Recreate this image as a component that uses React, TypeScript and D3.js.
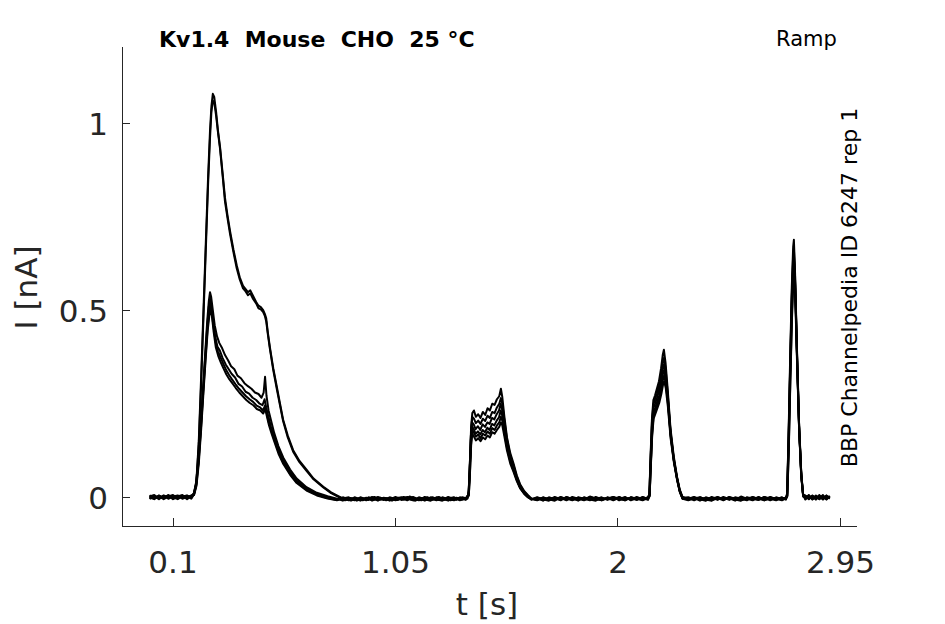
import { useEffect, useRef } from 'react';
import * as d3 from 'd3';

type Pt = [number, number];

// time [s], current [nA] -- six sweeps of the ramp protocol
const sweep1: Pt[] = [
  [0.000,0.003],[0.02,-0.004],[0.04,0.005],[0.06,-0.002],[0.08,0.004],[0.10,-0.005],[0.12,0.002],[0.14,0.006],[0.16,-0.003],[0.178,0.002],
  [0.19,0.012],[0.2,0.045],[0.21,0.15],[0.22,0.32],[0.23,0.50],[0.24,0.68],[0.25,0.86],[0.258,0.98],[0.264,1.045],[0.27,1.078],[0.276,1.07],
  [0.284,1.03],[0.292,0.98],[0.301,0.935],[0.312,0.865],[0.322,0.80],[0.333,0.752],[0.344,0.71],[0.358,0.662],[0.372,0.62],[0.385,0.588],[0.399,0.565],[0.41,0.556],[0.42,0.548],[0.43,0.553],[0.442,0.538],[0.455,0.522],[0.465,0.512],[0.475,0.508],[0.485,0.50],[0.492,0.49],[0.498,0.478],[0.505,0.44],[0.514,0.40],[0.528,0.345],[0.543,0.296],[0.557,0.25],[0.57,0.208],[0.59,0.165],[0.613,0.126],[0.64,0.097],[0.671,0.073],[0.70,0.05],[0.742,0.028],[0.775,0.013],[0.81,0.002],
  [0.835,-0.008],[0.86,-0.002],[0.885,-0.009],[0.91,-0.003],[0.935,-0.007],[0.96,0.001],[0.985,-0.006],[1.01,-0.002],[1.035,-0.009],[1.06,-0.001],[1.085,-0.006],[1.11,0.002],[1.135,-0.004],[1.16,-0.008],[1.185,0.0],[1.21,-0.005],[1.235,0.001],[1.26,-0.006],[1.285,-0.002],[1.31,-0.007],[1.335,0.0],[1.357,-0.004],
  [1.363,0.02],[1.368,0.10],[1.373,0.19],[1.378,0.225],[1.385,0.232],[1.393,0.215],[1.403,0.222],[1.413,0.212],[1.423,0.228],[1.433,0.22],[1.443,0.238],[1.453,0.232],[1.463,0.25],[1.473,0.247],[1.483,0.262],[1.493,0.27],[1.5,0.29],[1.506,0.268],[1.515,0.215],[1.526,0.16],[1.54,0.118],[1.554,0.09],[1.568,0.058],[1.582,0.035],[1.6,0.016],[1.615,0.006],[1.63,-0.003],
  [1.655,-0.007],[1.68,0.0],[1.705,-0.006],[1.73,-0.002],[1.755,-0.008],[1.78,0.001],[1.805,-0.005],[1.83,-0.001],[1.855,-0.007],[1.88,0.002],[1.905,-0.004],[1.93,-0.008],[1.955,0.0],[1.98,-0.005],[2.005,0.001],[2.03,-0.006],[2.055,-0.002],[2.08,-0.007],[2.105,0.0],[2.128,-0.004],
  [2.134,0.01],[2.139,0.11],[2.145,0.21],[2.151,0.26],[2.158,0.272],[2.166,0.29],[2.175,0.31],[2.184,0.345],[2.191,0.38],[2.196,0.394],[2.203,0.36],[2.212,0.29],[2.224,0.185],[2.238,0.11],[2.252,0.055],[2.263,0.022],[2.275,0.002],
  [2.3,-0.006],[2.325,0.0],[2.35,-0.007],[2.375,-0.002],[2.4,-0.008],[2.425,0.001],[2.45,-0.005],[2.475,-0.001],[2.5,-0.007],[2.525,0.002],[2.55,-0.004],[2.575,-0.008],[2.6,0.0],[2.625,-0.005],[2.65,0.001],[2.675,-0.006],[2.7,-0.002],[2.717,-0.005],
  [2.722,0.01],[2.728,0.16],[2.735,0.37],[2.742,0.56],[2.748,0.67],[2.751,0.688],[2.756,0.6],[2.764,0.4],[2.773,0.2],[2.782,0.07],[2.79,0.01],
  [2.80,-0.004],[2.815,0.005],[2.83,-0.006],[2.845,0.003],[2.86,-0.005],[2.875,0.004],[2.89,-0.003],[2.904,0.002],
];

const sweep2: Pt[] = [
  [0.000,-0.003],[0.02,0.004],[0.04,-0.002],[0.06,0.005],[0.08,-0.004],[0.10,0.003],[0.12,-0.002],[0.14,0.004],[0.16,-0.005],[0.178,0.003],
  [0.19,0.01],[0.2,0.04],[0.21,0.14],[0.22,0.30],[0.23,0.48],[0.24,0.66],[0.25,0.84],[0.258,0.96],[0.264,1.03],[0.27,1.06],[0.276,1.055],
  [0.284,1.02],[0.292,0.975],[0.301,0.93],[0.312,0.858],[0.322,0.79],[0.333,0.745],[0.344,0.702],[0.358,0.655],[0.372,0.612],[0.385,0.582],[0.399,0.558],[0.41,0.55],[0.42,0.54],[0.43,0.545],[0.442,0.53],[0.455,0.518],[0.465,0.505],[0.475,0.502],[0.485,0.495],[0.492,0.485],[0.498,0.47],[0.505,0.435],[0.514,0.395],[0.528,0.34],[0.543,0.29],[0.557,0.245],[0.57,0.204],[0.59,0.16],[0.613,0.122],[0.64,0.094],[0.671,0.07],[0.70,0.048],[0.742,0.026],[0.775,0.011],[0.81,0.0],
  [0.835,-0.004],[0.86,-0.009],[0.885,-0.003],[0.91,-0.008],[0.935,0.0],[0.96,-0.006],[0.985,-0.001],[1.01,-0.008],[1.035,-0.003],[1.06,-0.007],[1.085,0.001],[1.11,-0.005],[1.135,-0.009],[1.16,-0.002],[1.185,-0.006],[1.21,0.0],[1.235,-0.007],[1.26,-0.003],[1.285,-0.008],[1.31,-0.001],[1.335,-0.006],[1.357,-0.002],
  [1.363,0.015],[1.368,0.09],[1.373,0.18],[1.378,0.215],[1.385,0.21],[1.393,0.198],[1.403,0.205],[1.413,0.196],[1.423,0.21],[1.433,0.204],[1.443,0.218],[1.453,0.212],[1.463,0.228],[1.473,0.225],[1.483,0.24],[1.493,0.25],[1.5,0.265],[1.506,0.25],[1.515,0.205],[1.526,0.155],[1.54,0.112],[1.554,0.085],[1.568,0.055],[1.582,0.032],[1.6,0.014],[1.615,0.004],[1.63,-0.005],
  [1.655,-0.001],[1.68,-0.008],[1.705,-0.002],[1.73,-0.007],[1.755,0.001],[1.78,-0.006],[1.805,-0.002],[1.83,-0.009],[1.855,0.0],[1.88,-0.005],[1.905,-0.001],[1.93,-0.007],[1.955,-0.003],[1.98,0.001],[2.005,-0.008],[2.03,-0.002],[2.055,-0.006],[2.08,0.001],[2.105,-0.005],[2.128,-0.001],
  [2.134,0.008],[2.139,0.1],[2.145,0.2],[2.151,0.248],[2.158,0.262],[2.166,0.278],[2.175,0.298],[2.184,0.33],[2.191,0.36],[2.196,0.372],[2.203,0.345],[2.212,0.28],[2.224,0.178],[2.238,0.105],[2.252,0.052],[2.263,0.02],[2.275,0.0],
  [2.3,-0.002],[2.325,-0.008],[2.35,0.0],[2.375,-0.006],[2.4,-0.001],[2.425,-0.007],[2.45,0.001],[2.475,-0.005],[2.5,-0.002],[2.525,-0.008],[2.55,0.0],[2.575,-0.004],[2.6,-0.007],[2.625,0.001],[2.65,-0.006],[2.675,-0.002],[2.7,-0.007],[2.717,0.0],
  [2.722,0.008],[2.728,0.15],[2.735,0.35],[2.742,0.54],[2.748,0.65],[2.751,0.665],[2.756,0.59],[2.764,0.39],[2.773,0.19],[2.782,0.065],[2.79,0.008],
  [2.80,0.004],[2.815,-0.005],[2.83,0.003],[2.845,-0.006],[2.86,0.004],[2.875,-0.004],[2.89,0.005],[2.904,-0.003],
];

const sweep3: Pt[] = [
  [0.000,0.005],[0.02,-0.002],[0.04,0.003],[0.06,-0.005],[0.08,0.002],[0.10,0.006],[0.12,-0.003],[0.14,0.002],[0.16,0.005],[0.178,-0.002],
  [0.188,0.008],[0.198,0.035],[0.208,0.1],[0.218,0.19],[0.228,0.29],[0.238,0.39],[0.246,0.47],[0.253,0.525],[0.258,0.548],[0.263,0.535],
  [0.27,0.5],[0.278,0.46],[0.288,0.43],[0.298,0.412],[0.31,0.398],[0.322,0.38],[0.335,0.366],[0.348,0.35],[0.362,0.342],[0.375,0.325],[0.39,0.318],[0.405,0.305],[0.42,0.297],[0.435,0.29],[0.45,0.28],[0.465,0.276],[0.478,0.266],[0.487,0.28],[0.493,0.322],[0.499,0.272],[0.508,0.232],[0.52,0.202],[0.532,0.172],[0.55,0.137],[0.571,0.106],[0.6,0.074],[0.628,0.05],[0.67,0.027],[0.714,0.012],[0.76,0.003],[0.8,-0.004],
  [0.825,-0.009],[0.85,-0.003],[0.875,-0.008],[0.9,0.0],[0.925,-0.006],[0.95,-0.002],[0.975,-0.009],[1.0,-0.001],[1.025,-0.006],[1.05,0.001],[1.075,-0.007],[1.1,-0.003],[1.125,-0.008],[1.15,0.0],[1.175,-0.005],[1.2,-0.009],[1.225,-0.002],[1.25,-0.007],[1.275,0.001],[1.3,-0.005],[1.325,-0.002],[1.35,-0.007],
  [1.362,0.01],[1.367,0.08],[1.372,0.165],[1.377,0.2],[1.384,0.195],[1.392,0.182],[1.402,0.19],[1.412,0.18],[1.422,0.195],[1.432,0.188],[1.442,0.2],[1.452,0.196],[1.462,0.212],[1.472,0.208],[1.482,0.222],[1.492,0.232],[1.499,0.25],[1.505,0.235],[1.514,0.195],[1.525,0.148],[1.539,0.108],[1.553,0.082],[1.567,0.052],[1.581,0.03],[1.599,0.012],[1.614,0.003],[1.63,-0.006],
  [1.655,-0.003],[1.68,-0.009],[1.705,0.0],[1.73,-0.005],[1.755,-0.002],[1.78,-0.008],[1.805,0.001],[1.83,-0.004],[1.855,-0.008],[1.88,-0.001],[1.905,-0.006],[1.93,0.0],[1.955,-0.007],[1.98,-0.002],[2.005,-0.005],[2.03,0.001],[2.055,-0.008],[2.08,-0.003],[2.105,-0.006],[2.128,0.0],
  [2.134,0.006],[2.139,0.095],[2.145,0.19],[2.151,0.238],[2.158,0.25],[2.166,0.265],[2.175,0.285],[2.184,0.315],[2.191,0.345],[2.196,0.355],[2.203,0.33],[2.212,0.27],[2.224,0.172],[2.238,0.1],[2.252,0.05],[2.263,0.018],[2.275,-0.002],
  [2.3,-0.007],[2.325,-0.002],[2.35,-0.009],[2.375,0.0],[2.4,-0.005],[2.425,-0.002],[2.45,-0.008],[2.475,0.001],[2.5,-0.004],[2.525,-0.007],[2.55,-0.001],[2.575,-0.006],[2.6,0.001],[2.625,-0.008],[2.65,-0.003],[2.675,-0.006],[2.7,0.0],[2.717,-0.006],
  [2.722,0.005],[2.728,0.14],[2.735,0.34],[2.742,0.53],[2.748,0.635],[2.751,0.65],[2.756,0.58],[2.764,0.385],[2.773,0.19],[2.782,0.062],[2.79,0.006],
  [2.80,-0.006],[2.815,0.003],[2.83,-0.004],[2.845,0.005],[2.86,-0.003],[2.875,0.006],[2.89,-0.005],[2.904,0.003],
];

const sweep4: Pt[] = [
  [0.000,-0.004],[0.02,0.003],[0.04,-0.005],[0.06,0.004],[0.08,-0.001],[0.10,0.002],[0.12,0.005],[0.14,-0.004],[0.16,0.001],[0.178,0.004],
  [0.188,0.006],[0.198,0.03],[0.208,0.09],[0.218,0.18],[0.228,0.28],[0.238,0.38],[0.246,0.455],[0.253,0.51],[0.259,0.53],[0.264,0.515],
  [0.27,0.48],[0.28,0.43],[0.29,0.402],[0.3,0.392],[0.312,0.372],[0.325,0.355],[0.338,0.342],[0.35,0.33],[0.365,0.32],[0.38,0.303],[0.395,0.296],[0.41,0.282],[0.425,0.277],[0.44,0.266],[0.455,0.26],[0.47,0.25],[0.482,0.246],[0.491,0.262],[0.498,0.24],[0.507,0.216],[0.518,0.19],[0.53,0.166],[0.55,0.13],[0.571,0.1],[0.6,0.068],[0.628,0.045],[0.67,0.023],[0.714,0.009],[0.76,0.0],[0.8,-0.006],
  [0.825,-0.002],[0.85,-0.008],[0.875,0.0],[0.9,-0.006],[0.925,-0.001],[0.95,-0.009],[0.975,-0.003],[1.0,-0.007],[1.025,0.0],[1.05,-0.005],[1.075,-0.002],[1.1,-0.008],[1.125,0.001],[1.15,-0.006],[1.175,-0.002],[1.2,-0.007],[1.225,0.0],[1.25,-0.004],[1.275,-0.009],[1.3,-0.001],[1.325,-0.007],[1.35,-0.002],
  [1.362,0.008],[1.367,0.075],[1.372,0.155],[1.377,0.19],[1.384,0.182],[1.392,0.17],[1.402,0.176],[1.412,0.168],[1.422,0.18],[1.432,0.174],[1.442,0.186],[1.452,0.18],[1.462,0.196],[1.472,0.192],[1.482,0.205],[1.492,0.214],[1.499,0.232],[1.505,0.22],[1.514,0.185],[1.525,0.14],[1.539,0.102],[1.553,0.077],[1.567,0.05],[1.581,0.028],[1.599,0.011],[1.614,0.002],[1.63,-0.004],
  [1.655,-0.008],[1.68,-0.002],[1.705,-0.007],[1.73,0.001],[1.755,-0.005],[1.78,-0.001],[1.805,-0.008],[1.83,0.0],[1.855,-0.004],[1.88,-0.008],[1.905,0.001],[1.93,-0.005],[1.955,-0.002],[1.98,-0.008],[2.005,0.0],[2.03,-0.006],[2.055,-0.001],[2.08,-0.007],[2.105,0.001],[2.128,-0.005],
  [2.135,0.006],[2.14,0.09],[2.146,0.18],[2.152,0.228],[2.159,0.24],[2.167,0.255],[2.176,0.272],[2.185,0.3],[2.192,0.33],[2.197,0.34],[2.204,0.318],[2.213,0.262],[2.225,0.168],[2.239,0.098],[2.253,0.048],[2.264,0.017],[2.276,-0.003],
  [2.3,0.0],[2.325,-0.006],[2.35,-0.002],[2.375,-0.008],[2.4,0.001],[2.425,-0.005],[2.45,-0.001],[2.475,-0.007],[2.5,0.0],[2.525,-0.004],[2.55,-0.008],[2.575,0.001],[2.6,-0.005],[2.625,-0.002],[2.65,-0.008],[2.675,0.0],[2.7,-0.005],[2.717,-0.002],
  [2.722,0.004],[2.728,0.13],[2.735,0.33],[2.742,0.51],[2.748,0.615],[2.752,0.63],[2.757,0.56],[2.765,0.37],[2.774,0.18],[2.783,0.058],[2.791,0.004],
  [2.80,0.003],[2.815,-0.004],[2.83,0.005],[2.845,-0.003],[2.86,0.006],[2.875,-0.005],[2.89,0.002],[2.904,-0.004],
];

const sweep5: Pt[] = [
  [0.000,0.002],[0.02,0.006],[0.04,-0.003],[0.06,0.001],[0.08,0.005],[0.10,-0.004],[0.12,0.003],[0.14,-0.001],[0.16,0.004],[0.178,-0.004],
  [0.19,0.008],[0.2,0.035],[0.21,0.1],[0.22,0.19],[0.23,0.29],[0.24,0.385],[0.248,0.455],[0.255,0.5],[0.26,0.515],[0.265,0.5],
  [0.272,0.46],[0.282,0.415],[0.292,0.39],[0.302,0.375],[0.314,0.358],[0.327,0.34],[0.34,0.326],[0.352,0.315],[0.367,0.302],[0.382,0.29],[0.397,0.28],[0.412,0.27],[0.427,0.262],[0.442,0.255],[0.457,0.245],[0.472,0.24],[0.484,0.232],[0.493,0.245],[0.5,0.225],[0.509,0.2],[0.52,0.178],[0.532,0.155],[0.55,0.122],[0.571,0.093],[0.6,0.063],[0.628,0.04],[0.67,0.02],[0.714,0.007],[0.76,-0.002],[0.8,-0.007],
  [0.825,-0.003],[0.85,0.0],[0.875,-0.007],[0.9,-0.002],[0.925,-0.008],[0.95,0.001],[0.975,-0.005],[1.0,-0.002],[1.025,-0.009],[1.05,-0.003],[1.075,0.0],[1.1,-0.006],[1.125,-0.002],[1.15,-0.008],[1.175,0.001],[1.2,-0.004],[1.225,-0.008],[1.25,0.0],[1.275,-0.005],[1.3,-0.008],[1.325,0.0],[1.35,-0.005],
  [1.363,0.006],[1.368,0.07],[1.373,0.148],[1.378,0.18],[1.385,0.172],[1.393,0.162],[1.403,0.168],[1.413,0.158],[1.423,0.17],[1.433,0.165],[1.443,0.176],[1.453,0.17],[1.463,0.185],[1.473,0.18],[1.483,0.192],[1.493,0.2],[1.5,0.215],[1.506,0.205],[1.515,0.172],[1.526,0.132],[1.54,0.096],[1.554,0.072],[1.568,0.046],[1.582,0.026],[1.6,0.01],[1.615,0.001],[1.63,-0.006],
  [1.655,0.0],[1.68,-0.005],[1.705,-0.009],[1.73,-0.002],[1.755,-0.007],[1.78,0.0],[1.805,-0.004],[1.83,-0.007],[1.855,-0.001],[1.88,-0.006],[1.905,-0.009],[1.93,-0.002],[1.955,-0.005],[1.98,0.001],[2.005,-0.004],[2.03,-0.008],[2.055,0.0],[2.08,-0.004],[2.105,-0.008],[2.128,-0.002],
  [2.135,0.004],[2.14,0.085],[2.146,0.172],[2.152,0.218],[2.159,0.23],[2.167,0.245],[2.176,0.262],[2.185,0.288],[2.192,0.315],[2.197,0.325],[2.204,0.305],[2.213,0.252],[2.225,0.162],[2.239,0.095],[2.253,0.046],[2.264,0.015],[2.276,-0.004],
  [2.3,-0.004],[2.325,0.001],[2.35,-0.005],[2.375,-0.009],[2.4,-0.003],[2.425,0.0],[2.45,-0.006],[2.475,-0.003],[2.5,-0.009],[2.525,0.0],[2.55,-0.005],[2.575,-0.002],[2.6,-0.007],[2.625,0.001],[2.65,-0.004],[2.675,-0.008],[2.7,-0.001],[2.717,-0.004],
  [2.723,0.004],[2.729,0.13],[2.736,0.32],[2.743,0.5],[2.749,0.6],[2.752,0.612],[2.757,0.545],[2.765,0.36],[2.774,0.175],[2.783,0.055],[2.791,0.003],
  [2.80,-0.002],[2.815,0.006],[2.83,-0.005],[2.845,0.002],[2.86,-0.004],[2.875,0.003],[2.89,-0.006],[2.904,0.004],
];

const sweep6: Pt[] = [
  [0.000,-0.001],[0.02,-0.005],[0.04,0.004],[0.06,-0.003],[0.08,0.006],[0.10,0.0],[0.12,-0.005],[0.14,0.003],[0.16,-0.002],[0.178,0.005],
  [0.19,0.006],[0.2,0.03],[0.21,0.09],[0.22,0.18],[0.23,0.28],[0.24,0.375],[0.248,0.445],[0.255,0.485],[0.261,0.5],[0.266,0.485],
  [0.273,0.445],[0.283,0.4],[0.293,0.378],[0.303,0.362],[0.315,0.345],[0.328,0.328],[0.341,0.315],[0.353,0.305],[0.368,0.292],[0.383,0.28],[0.398,0.27],[0.413,0.26],[0.428,0.252],[0.443,0.246],[0.458,0.236],[0.473,0.232],[0.485,0.224],[0.494,0.236],[0.501,0.216],[0.51,0.192],[0.521,0.17],[0.533,0.148],[0.55,0.117],[0.571,0.089],[0.6,0.06],[0.628,0.038],[0.67,0.018],[0.714,0.005],[0.76,-0.003],[0.8,-0.008],
  [0.825,0.0],[0.85,-0.006],[0.875,-0.002],[0.9,-0.009],[0.925,-0.003],[0.95,-0.006],[0.975,0.001],[1.0,-0.005],[1.025,-0.002],[1.05,-0.008],[1.075,-0.004],[1.1,0.001],[1.125,-0.006],[1.15,-0.003],[1.175,-0.009],[1.2,0.0],[1.225,-0.005],[1.25,-0.009],[1.275,-0.003],[1.3,0.0],[1.325,-0.008],[1.35,-0.003],
  [1.363,0.004],[1.368,0.065],[1.373,0.14],[1.378,0.17],[1.385,0.162],[1.393,0.152],[1.403,0.158],[1.413,0.15],[1.423,0.16],[1.433,0.155],[1.443,0.165],[1.453,0.16],[1.463,0.174],[1.473,0.17],[1.483,0.18],[1.493,0.188],[1.5,0.2],[1.506,0.192],[1.515,0.162],[1.526,0.125],[1.54,0.09],[1.554,0.068],[1.568,0.043],[1.582,0.024],[1.6,0.009],[1.615,0.0],[1.63,-0.004],
  [1.655,-0.006],[1.68,-0.001],[1.705,-0.005],[1.73,-0.009],[1.755,0.0],[1.78,-0.004],[1.805,-0.007],[1.83,-0.002],[1.855,-0.006],[1.88,0.001],[1.905,-0.003],[1.93,-0.008],[1.955,-0.001],[1.98,-0.006],[2.005,-0.003],[2.03,-0.008],[2.055,0.0],[2.08,-0.005],[2.105,-0.002],[2.128,-0.007],
  [2.135,0.003],[2.14,0.08],[2.146,0.165],[2.152,0.21],[2.159,0.222],[2.167,0.236],[2.176,0.252],[2.185,0.276],[2.192,0.3],[2.197,0.31],[2.204,0.292],[2.213,0.242],[2.225,0.156],[2.239,0.092],[2.253,0.044],[2.264,0.014],[2.276,-0.004],
  [2.3,-0.008],[2.325,-0.003],[2.35,0.0],[2.375,-0.006],[2.4,-0.009],[2.425,-0.002],[2.45,-0.005],[2.475,0.0],[2.5,-0.006],[2.525,-0.009],[2.55,-0.003],[2.575,0.0],[2.6,-0.004],[2.625,-0.008],[2.65,0.0],[2.675,-0.004],[2.7,-0.008],[2.717,-0.003],
  [2.723,0.003],[2.729,0.12],[2.736,0.31],[2.743,0.48],[2.749,0.58],[2.752,0.592],[2.757,0.53],[2.765,0.35],[2.774,0.17],[2.783,0.052],[2.791,0.002],
  [2.80,0.005],[2.815,-0.003],[2.83,0.004],[2.845,-0.005],[2.86,0.002],[2.875,-0.006],[2.89,0.004],[2.904,-0.002],
];

const sweeps = [sweep1, sweep2, sweep3, sweep4, sweep5, sweep6];

const xTicks = [0.1, 1.05, 2, 2.95];
const xTickLabels = ['0.1', '1.05', '2', '2.95'];
const yTicks = [0, 0.5, 1];
const yTickLabels = ['0', '0.5', '1'];

const titleText = 'Kv1.4  Mouse  CHO  25 °C';
const protocolText = 'Ramp';
const sourceText = 'BBP Channelpedia ID 6247 rep 1';

const WIDTH = 945;
const HEIGHT = 624;
const FONT = '"DejaVu Sans", sans-serif';
const AXIS_COLOR = '#262626';

const App = () => {
  const svgRef = useRef<SVGSVGElement>(null);

  useEffect(() => {
    if (!svgRef.current) return;
    const svg = d3.select(svgRef.current);
    svg.selectAll('*').remove();

    const left = 122, right = 857, top = 47, bottom = 526;

    const x = d3.scaleLinear().domain([-0.1178, 3.0205]).range([left, right]);
    const y = d3.scaleLinear().domain([-0.0767, 1.2032]).range([bottom, top]);

    // traces
    const line = d3.line<Pt>()
      .x(d => x(d[0]))
      .y(d => y(d[1]));

    svg.append('g')
      .selectAll('path')
      .data(sweeps)
      .enter().append('path')
      .attr('d', d => line(d) || '')
      .attr('fill', 'none')
      .attr('stroke', '#000')
      .attr('stroke-width', 2)
      .attr('stroke-linejoin', 'round');

    // axes (MATLAB style: ticks pointing inward)
    const axes = svg.append('g')
      .attr('stroke', AXIS_COLOR)
      .attr('stroke-width', 1)
      .attr('shape-rendering', 'crispEdges');

    axes.append('line')
      .attr('x1', left).attr('x2', right)
      .attr('y1', bottom + 0.5).attr('y2', bottom + 0.5);
    axes.append('line')
      .attr('x1', left + 0.5).attr('x2', left + 0.5)
      .attr('y1', top).attr('y2', bottom);

    xTicks.forEach(t => {
      axes.append('line')
        .attr('x1', x(t)).attr('x2', x(t))
        .attr('y1', bottom).attr('y2', bottom - 8);
    });
    yTicks.forEach(v => {
      axes.append('line')
        .attr('x1', left).attr('x2', left + 8)
        .attr('y1', y(v)).attr('y2', y(v));
    });

    svg.append('g')
      .selectAll('text')
      .data(xTicks)
      .enter().append('text')
      .attr('x', d => x(d))
      .attr('y', 573)
      .attr('text-anchor', 'middle')
      .style('font-family', FONT)
      .style('font-size', '31px')
      .style('fill', AXIS_COLOR)
      .text((d, i) => xTickLabels[i]);

    svg.append('g')
      .selectAll('text')
      .data(yTicks)
      .enter().append('text')
      .attr('x', 108)
      .attr('y', d => y(d) + 12)
      .attr('text-anchor', 'end')
      .style('font-family', FONT)
      .style('font-size', '31px')
      .style('fill', AXIS_COLOR)
      .text((d, i) => yTickLabels[i]);

    // axis labels
    svg.append('text')
      .attr('x', 487)
      .attr('y', 615)
      .attr('text-anchor', 'middle')
      .style('font-family', FONT)
      .style('font-size', '31px')
      .style('fill', AXIS_COLOR)
      .text('t [s]');

    svg.append('text')
      .attr('transform', 'translate(37,287.5) rotate(-90)')
      .attr('text-anchor', 'middle')
      .style('font-family', FONT)
      .style('font-size', '31px')
      .style('fill', AXIS_COLOR)
      .text('I [nA]');

    // annotations
    svg.append('text')
      .attr('x', 159)
      .attr('y', 46.5)
      .style('font-family', FONT)
      .style('font-size', '22px')
      .style('font-weight', 'bold')
      .style('white-space', 'pre')
      .style('fill', '#000')
      .text(titleText);

    svg.append('text')
      .attr('x', 776)
      .attr('y', 46)
      .style('font-family', FONT)
      .style('font-size', '21px')
      .style('fill', '#000')
      .text(protocolText);

    svg.append('text')
      .attr('transform', 'translate(857,287.5) rotate(-90)')
      .attr('text-anchor', 'middle')
      .style('font-family', FONT)
      .style('font-size', '22px')
      .style('fill', '#000')
      .text(sourceText);
  }, []);

  return (
    <div style={{ position: 'absolute', left: 0, top: 0, background: '#fff' }}>
      <svg ref={svgRef} width={WIDTH} height={HEIGHT} style={{ display: 'block' }} />
    </div>
  );
};

export default App;
